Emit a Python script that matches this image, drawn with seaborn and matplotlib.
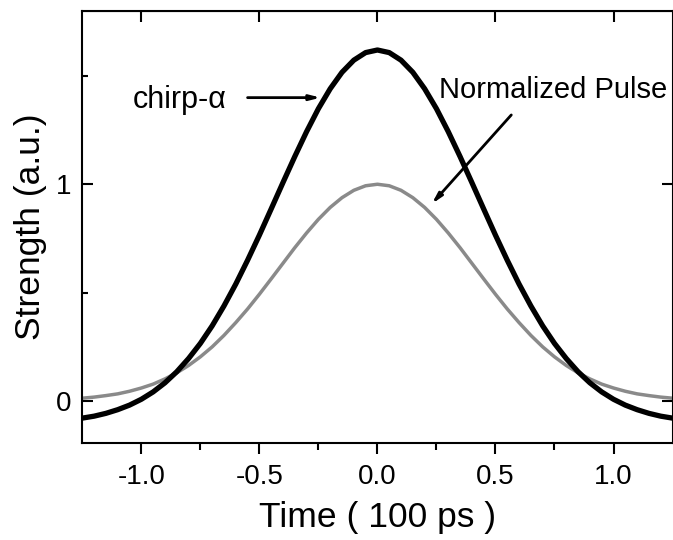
import pandas as pd
import seaborn as sns
import matplotlib.pyplot as plt

# Time axis (units of 100 ps)
time = [-1.25, -1.20, -1.15, -1.10, -1.05, -1.00, -0.95, -0.90, -0.85, -0.80,
        -0.75, -0.70, -0.65, -0.60, -0.55, -0.50, -0.45, -0.40, -0.35, -0.30,
        -0.25, -0.20, -0.15, -0.10, -0.05, 0.00, 0.05, 0.10, 0.15, 0.20,
        0.25, 0.30, 0.35, 0.40, 0.45, 0.50, 0.55, 0.60, 0.65, 0.70,
        0.75, 0.80, 0.85, 0.90, 0.95, 1.00, 1.05, 1.10, 1.15, 1.20, 1.25]

# chirp-alpha curve (black)
chirp = [-0.080, -0.071, -0.058, -0.041, -0.020, 0.007, 0.041, 0.083, 0.134, 0.195,
         0.265, 0.346, 0.438, 0.539, 0.649, 0.765, 0.886, 1.008, 1.128, 1.243,
         1.349, 1.441, 1.517, 1.573, 1.608, 1.620, 1.608, 1.573, 1.517, 1.441,
         1.349, 1.243, 1.128, 1.008, 0.886, 0.765, 0.649, 0.539, 0.438, 0.346,
         0.265, 0.195, 0.134, 0.083, 0.041, 0.007, -0.020, -0.041, -0.058, -0.071, -0.080]

# normalized pulse (gray)
pulse = [0.012, 0.017, 0.024, 0.032, 0.044, 0.059, 0.077, 0.101, 0.129, 0.163,
         0.203, 0.249, 0.302, 0.361, 0.424, 0.492, 0.563, 0.635, 0.707, 0.775,
         0.838, 0.893, 0.938, 0.972, 0.993, 1.000, 0.993, 0.972, 0.938, 0.893,
         0.838, 0.775, 0.707, 0.635, 0.563, 0.492, 0.424, 0.361, 0.302, 0.249,
         0.203, 0.163, 0.129, 0.101, 0.077, 0.059, 0.044, 0.032, 0.024, 0.017, 0.012]

x_major = [-1.0, -0.5, 0.0, 0.5, 1.0]
x_labels = ['-1.0', '-0.5', '0.0', '0.5', '1.0']
x_minor = [-0.75, -0.25, 0.25, 0.75]
y_major = [0, 1]
y_labels = ['0', '1']
y_minor = [0.5, 1.5]

df = pd.DataFrame({'time': time, 'chirp': chirp, 'pulse': pulse})

sns.set_style("ticks")
plt.rcParams['font.family'] = ['Liberation Sans', 'DejaVu Sans']
plt.rcParams['text.color'] = 'black'
plt.rcParams['axes.labelcolor'] = 'black'
plt.rcParams['xtick.color'] = 'black'
plt.rcParams['ytick.color'] = 'black'

fig = plt.figure(figsize=(6.73, 5.4), dpi=100)
ax = fig.add_axes([0.1223, 0.1796, 0.8770, 0.8000])

sns.lineplot(data=df, x='time', y='pulse', color='#8a8a8a', linewidth=2.5, ax=ax)
sns.lineplot(data=df, x='time', y='chirp', color='black', linewidth=3.8, ax=ax)

ax.set_xlim(-1.25, 1.25)
ax.set_ylim(-0.195, 1.80)

ax.set_xticks(x_major)
ax.set_xticklabels(x_labels)
ax.set_xticks(x_minor, minor=True)
ax.set_yticks(y_major)
ax.set_yticklabels(y_labels)
ax.set_yticks(y_minor, minor=True)

ax.tick_params(axis='x', which='major', direction='out', length=8, width=1.5,
               labelsize=20, pad=7)
ax.tick_params(axis='x', which='minor', direction='out', length=5, width=1.5)
ax.tick_params(axis='y', which='major', direction='in', length=8, width=1.5,
               labelsize=20, pad=8)
ax.tick_params(axis='y', which='minor', direction='in', length=4, width=1.5)

for s in ax.spines.values():
    s.set_linewidth(1.5)
    s.set_color('black')

# top and right ticks (inward, major only)
top = ax.secondary_xaxis('top')
top.set_xticks(x_major)
top.tick_params(direction='in', length=8, width=1.5, labeltop=False)
right = ax.secondary_yaxis('right')
right.set_yticks(y_major)
right.tick_params(direction='in', length=8, width=1.5, labelright=False)

ax.set_xlabel('Time ( 100 ps )', fontsize=25.5, labelpad=8)
ax.set_ylabel('Strength (a.u.)', fontsize=25.5, labelpad=6)

# annotations
ax.text(-1.037, 1.39, 'chirp-\u03b1', fontsize=22, ha='left', va='center')
ax.annotate('', xy=(-0.24, 1.40), xytext=(-0.55, 1.40),
            arrowprops=dict(arrowstyle='-|>,head_length=0.6,head_width=0.15',
                            lw=2, color='black', shrinkA=0, shrinkB=0))
ax.text(0.261, 1.436, 'Normalized Pulse', fontsize=21, ha='left', va='center')
ax.annotate('', xy=(0.23, 0.909), xytext=(0.567, 1.32),
            arrowprops=dict(arrowstyle='-|>,head_length=0.6,head_width=0.15',
                            lw=2, color='black', shrinkA=0, shrinkB=0))

fig.savefig('out.png', dpi=100)
